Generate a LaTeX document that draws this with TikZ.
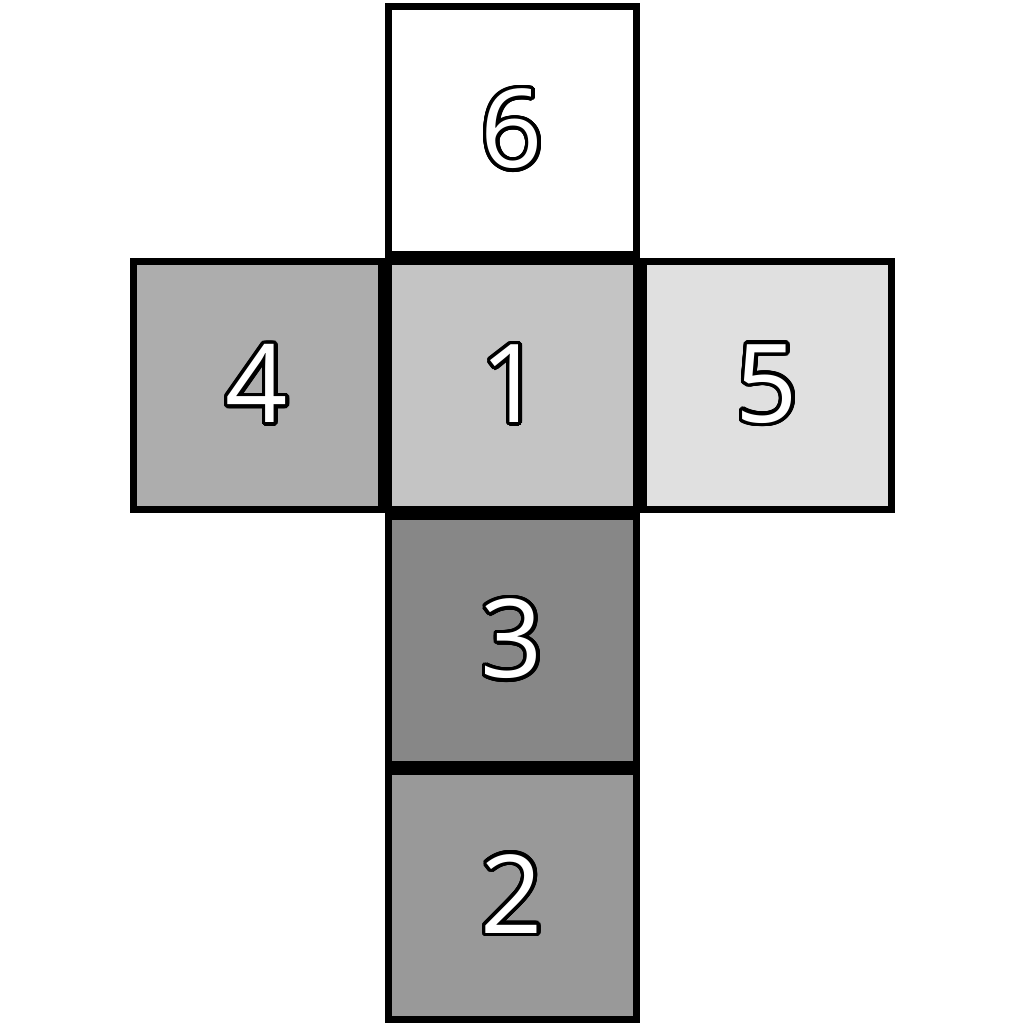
\documentclass[tikz,border=0pt]{standalone}
\usepackage{fontspec}
\setmainfont{Open Sans}
\usepackage[copies]{contour}
\usetikzlibrary{positioning}
\definecolor{NetTop}{RGB}{255,255,255}
\definecolor{NetLeft}{RGB}{173,173,173}
\definecolor{NetFront}{RGB}{196,196,196}
\definecolor{NetRight}{RGB}{224,224,224}
\definecolor{NetBelow}{RGB}{135,135,135}
\definecolor{NetBack}{RGB}{153,153,153}
\contourlength{1pt}
\contournumber{32}
\newcommand{\facenum}[1]{\contour{black}{\textcolor{white}{#1}}}
\tikzset{
  net/face/.style={
    draw=black,
    line width=0.07cm,
    minimum size=2.48cm,
    inner sep=0pt,
    align=center,
    font=\fontsize{31}{31}\selectfont
  }
}
\begin{document}
\begin{tikzpicture}[x=1cm,y=1cm]
  \useasboundingbox (0,0) rectangle (10.24,10.24);
  \node[net/face,fill=NetTop] (six) at (5.12,8.935) {\facenum{6}};
  \node[net/face,fill=NetFront] (one) at (5.12,6.385) {\facenum{1}};
  \node[net/face,fill=NetLeft] (four) at (2.57,6.385) {\facenum{4}};
  \node[net/face,fill=NetRight] (five) at (7.67,6.385) {\facenum{5}};
  \node[net/face,fill=NetBelow] (three) at (5.12,3.835) {\facenum{3}};
  \node[net/face,fill=NetBack] (two) at (5.12,1.285) {\facenum{2}};
\end{tikzpicture}
\end{document}
